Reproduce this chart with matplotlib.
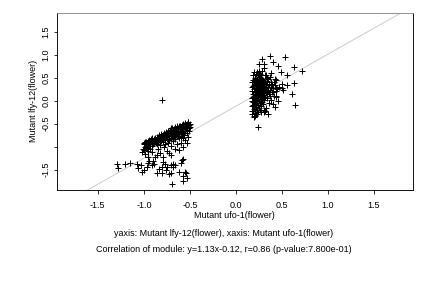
import matplotlib
matplotlib.use("Agg")
import matplotlib.pyplot as plt
import numpy as np

plt.rcParams['font.family'] = ['Liberation Sans', 'DejaVu Sans']

# Cluster 1 (lower-left) points
c1_x = [-1.00,-0.99,-0.98,-0.97,-0.96,-0.95,-0.95,-0.94,-0.93,-0.92,-0.91,-0.91,-0.90,-0.89,-0.88,-0.88,-0.87,-0.86,-0.86,-0.85,
        -0.84,-0.84,-0.83,-0.82,-0.82,-0.81,-0.80,-0.80,-0.79,-0.78,-0.78,-0.77,-0.77,-0.76,-0.76,-0.75,-0.74,-0.74,-0.73,-0.73,
        -0.72,-0.72,-0.71,-0.70,-0.70,-0.69,-0.69,-0.68,-0.68,-0.67,-0.66,-0.66,-0.65,-0.65,-0.64,-0.64,-0.63,-0.63,-0.62,-0.62,
        -0.61,-0.60,-0.60,-0.59,-0.59,-0.58,-0.58,-0.57,-0.57,-0.56,-0.56,-0.55,-0.55,-0.54,-0.54,-0.53,-0.53,-0.52,-0.52,-0.51,
        -0.51,-0.50,-0.70,
        -0.98,-0.96,-0.94,-0.92,-0.90,-0.89,-0.87,-0.85,-0.83,-0.81,-0.79,-0.79,-0.77,-0.75,-0.75,-0.73,-0.71,-0.71,-0.69,-0.67,
        -0.67,-0.65,-0.63,-0.61,-0.61,-0.59,-0.57,-0.55,-0.53,-0.51,-0.50,-0.74,-0.68,-0.62,-0.56,-0.53,-0.52,-0.66,-0.60,-0.82,
        -0.77,-1.01,-0.97,-1.00,-0.99,
        -1.29,-1.28,-1.21,-1.15,-1.07,-1.06,-1.03,-1.02,-1.00,-0.97,-0.96,-0.94,-0.91,-0.89,-0.86,-0.84,-0.80,-0.80,-0.79,-0.77,
        -0.76,-0.75,-0.73,-0.71,-0.71,-0.69,-0.68,-0.68,-0.66,-0.62,-0.60,-0.59,-0.57,-0.57,-0.57,-0.55,-0.53,-0.54,
        -1.02,-1.00,-0.99,-0.96,-0.93,-0.91,-0.88,-0.86,-0.85,-0.82,-0.79,-0.78,-0.75,-0.73,-0.71,-0.70,-0.66,-0.64,-0.62,-0.60,
        -0.57,-0.55,-0.53,-0.52,-0.58,-0.95,-0.90,
        -0.80]
c1_y = [-0.95,-1.00,-0.90,-0.97,-0.88,-0.93,-1.02,-0.85,-0.95,-0.90,-0.82,-0.98,-0.87,-0.93,-0.80,-0.90,-0.85,-0.95,-0.78,-0.88,
        -0.82,-0.74,-0.90,-0.79,-0.86,-0.72,-0.83,-0.76,-0.90,-0.70,-0.80,-0.86,-0.74,-0.68,-0.78,-0.83,-0.72,-0.66,-0.77,-0.86,
        -0.70,-0.63,-0.75,-0.81,-0.67,-0.60,-0.72,-0.78,-0.65,-0.70,-0.58,-0.75,-0.63,-0.68,-0.56,-0.72,-0.60,-0.66,-0.54,-0.70,
        -0.62,-0.57,-0.66,-0.52,-0.61,-0.68,-0.56,-0.50,-0.62,-0.58,-0.53,-0.65,-0.48,-0.56,-0.60,-0.50,-0.64,-0.55,-0.47,-0.60,
        -0.52,-0.57,-0.60,
        -1.03,-0.95,-0.98,-0.84,-0.95,-0.83,-0.92,-0.80,-0.84,-0.88,-0.74,-0.82,-0.80,-0.70,-0.77,-0.68,-0.66,-0.84,-0.76,-0.62,
        -0.79,-0.73,-0.76,-0.56,-0.68,-0.72,-0.55,-0.52,-0.57,-0.66,-0.50,-0.92,-0.88,-0.80,-0.74,-0.70,-0.46,-0.84,-0.78,-0.96,
        -0.94,-1.06,-1.04,-0.92,-0.89,
        -1.38,-1.47,-1.37,-1.35,-1.37,-1.46,-1.40,-1.54,-1.50,-1.43,-1.36,-1.32,-1.40,-1.37,-1.56,-1.48,-1.57,-1.43,-1.33,-1.37,
        -1.50,-1.45,-1.60,-1.58,-1.40,-1.80,-1.45,-1.38,-1.40,-1.55,-1.36,-1.29,-1.63,-1.75,-1.26,-1.55,-1.67,-1.58,
        -1.12,-1.08,-1.15,-1.10,-1.06,-1.12,-1.23,-1.18,-1.05,-1.14,-1.22,-1.00,-1.10,-1.14,-1.18,-0.98,-1.05,-0.95,-1.08,-0.92,
        -1.00,-0.86,-0.92,-0.78,-0.82,-1.22,-1.30,
        0.02]

# Cluster 2 (upper-right) points
c2_x = [0.18,0.18,0.18,0.18,0.18,0.19,0.19,0.19,0.19,0.19,0.20,0.20,0.20,0.20,0.20,0.20,0.20,
        0.21,0.21,0.21,0.21,0.21,0.21,0.22,0.22,0.22,0.22,0.22,0.22,0.22,0.23,0.23,0.23,0.23,0.23,0.23,
        0.24,0.24,0.24,0.24,0.24,0.24,0.25,0.25,0.25,0.25,0.25,0.25,0.25,0.26,0.26,0.26,0.26,0.26,
        0.27,0.27,0.27,0.27,0.27,0.28,0.28,0.28,0.28,0.28,0.28,0.29,0.29,0.29,0.29,0.30,0.30,0.30,0.30,
        0.31,0.31,0.32,0.32,0.33,0.33,0.34,0.34,0.35,0.36,0.37,0.38,0.39,0.40,0.41,0.42,0.44,0.45,0.47,
        0.36,0.38,0.40,0.33,0.31,0.30,0.35,0.37,0.32,0.30,0.27,0.23,
        0.19,0.20,0.21,0.22,0.23,0.24,0.25,0.26,0.26,0.27,0.28,0.29,0.30,0.31,0.32,0.33,0.34,0.35,0.36,0.37,
        0.38,0.39,0.40,0.41,0.43,0.18,0.19,0.22,0.24,0.17,0.17,0.21,0.23,0.19,0.27,0.29,
        0.365,0.286,0.53,0.30,0.25,0.40,0.46,0.63,0.72,0.49,0.55,0.38,0.33,0.34,0.42,0.43,0.63,0.56,0.50,
        0.61,0.64,0.46,0.43,0.44,0.42,0.35,0.32,0.235,0.20,0.50,0.51]
c2_y = [-0.30,-0.12,0.05,0.22,0.40,-0.22,-0.02,0.15,0.32,0.55,-0.35,-0.18,0.00,0.10,0.26,0.45,0.62,
        -0.26,-0.08,0.06,0.19,0.36,0.50,-0.14,-0.30,0.02,0.13,0.28,0.42,0.58,-0.20,-0.04,0.08,0.22,0.34,0.48,
        -0.10,-0.25,0.04,0.16,0.30,0.40,-0.16,0.00,0.12,0.24,0.38,0.52,0.65,-0.06,0.08,0.20,0.32,0.44,
        -0.12,0.03,0.15,0.27,0.36,-0.02,0.10,0.22,0.33,0.48,0.65,0.06,0.18,0.28,-0.08,0.12,0.24,0.40,0.02,
        0.20,0.30,0.08,0.26,0.16,0.36,0.22,0.05,0.30,0.14,0.24,0.40,0.18,0.28,0.10,0.34,0.22,0.26,0.30,
        -0.05,0.02,-0.08,-0.15,-0.20,-0.25,0.48,0.52,0.55,0.70,0.55,0.62,
        0.45,0.35,-0.33,0.20,0.14,0.55,0.30,0.58,-0.20,0.45,0.40,0.36,0.32,0.12,0.40,0.28,0.42,0.20,0.34,0.10,
        0.30,0.36,0.18,0.40,0.28,-0.22,0.08,-0.05,0.10,0.30,0.00,-0.15,-0.28,-0.10,-0.25,0.45,
        0.96,0.90,0.95,0.80,0.80,0.83,0.75,0.73,0.65,0.63,0.56,0.61,0.55,0.50,0.47,0.44,0.39,0.34,0.37,
        0.14,-0.10,-0.01,0.10,0.07,-0.13,-0.30,-0.22,-0.57,-0.33,0.28,0.23]

slope = 1.13
intercept = -0.12
xticks = [-1.5, -1.0, -0.5, 0.0, 0.5, 1.0, 1.5]
yticks = [-1.5, -1.0, -0.5, 0.0, 0.5, 1.0, 1.5]
ytick_labels = ['-1.5', '', '-0.5', '0.0', '0.5', '1.0', '1.5']
xlabel = 'Mutant ufo-1(flower)'
ylabel = 'Mutant lfy-12(flower)'
caption1 = 'yaxis: Mutant lfy-12(flower), xaxis: Mutant ufo-1(flower)'
caption2 = 'Correlation of module: y=1.13x-0.12, r=0.86 (p-value:7.800e-01)'

W, H = 432, 288
fig = plt.figure(figsize=(6, 4), dpi=72)
L, R, T, B = 57.3, 412.7, 12.7, 190.0
ax = fig.add_axes([L / W, 1 - B / H, (R - L) / W, (B - T) / H])
xlim = (-1.94, 1.92)
ylim = (-1.94, 1.91)
ax.set_xlim(*xlim)
ax.set_ylim(*ylim)

lx = np.array(xlim)
ax.plot(lx, slope * lx + intercept, color='#c8c8c8', lw=0.9, zorder=1)

ax.plot(c1_x, c1_y, linestyle='none', marker='+', color='black', markersize=5.5, mew=1.0, zorder=2)
ax.plot(c2_x, c2_y, linestyle='none', marker='+', color='black', markersize=5.5, mew=1.0, zorder=2)

ax.set_xticks(xticks)
ax.set_xticklabels([f'{v:.1f}' for v in xticks])
ax.set_yticks(yticks)
ax.set_yticklabels(ytick_labels, rotation=90, va='center')
ax.tick_params(direction='out', length=3.5, width=0.8, labelsize=9)
ax.tick_params(axis='x', pad=7)
ax.tick_params(axis='y', pad=3)
for s in ax.spines.values():
    s.set_linewidth(0.9)
    s.set_color('black')
ax.spines['top'].set_color('#888888')

fig.text(234 / W, 1 - 216 / H, xlabel, ha='center', va='center', fontsize=9)
fig.text(33 / W, 1 - ((T + B) / 2) / H, ylabel, ha='center', va='center', fontsize=9, rotation=90)
fig.text(224 / W, 1 - 233 / H, caption1, ha='center', va='center', fontsize=9)
fig.text(224 / W, 1 - 249.5 / H, caption2, ha='center', va='center', fontsize=9)

fig.savefig('out.png', dpi=72)
